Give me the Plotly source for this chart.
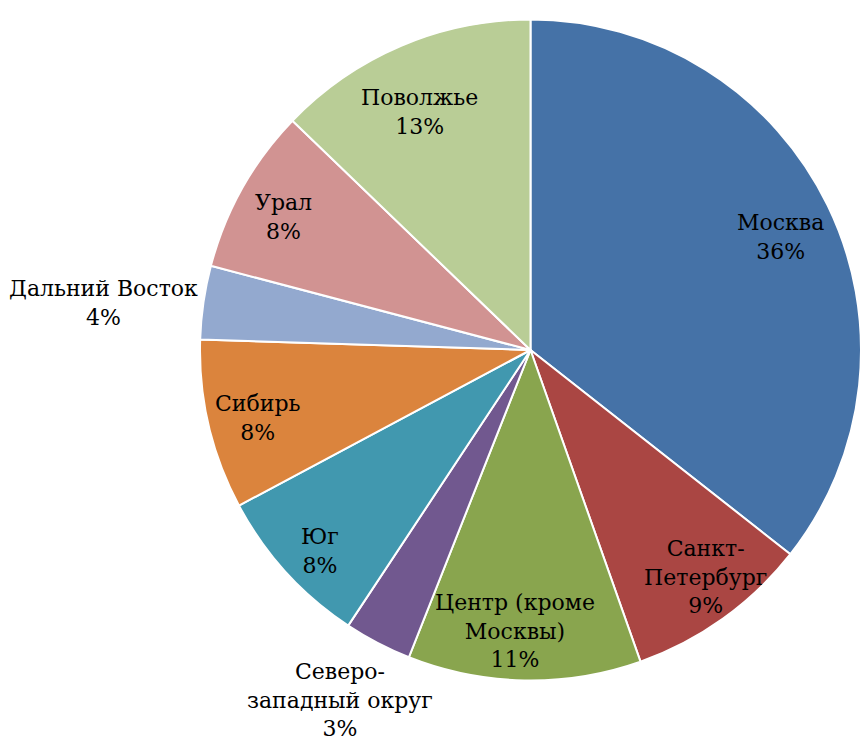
import math
import plotly.graph_objects as go

# ---- data ----
regions = ["Москва", "Санкт-Петербург", "Центр (кроме Москвы)", "Северо-западный округ",
           "Юг", "Сибирь", "Дальний Восток", "Урал", "Поволжье"]
shares = [35.6, 9.0, 11.4, 3.3, 7.9, 8.3, 3.6, 8.1, 12.8]
label_lines = ["Москва", "Санкт-<br>Петербург", "Центр (кроме<br>Москвы)", "Северо-<br>западный округ",
               "Юг", "Сибирь", "Дальний Восток", "Урал", "Поволжье"]
colors = ["#4572A7", "#AA4643", "#89A54E", "#71588F", "#4198AF",
          "#DB843D", "#93A9CF", "#D19392", "#B9CD96"]

# ---- layout geometry (label placement styling) ----
W, H = 861, 743
dom_x = [200 / W, 1.0]
dom_y = [62.5 / H, 723.5 / H]
label_radius = [0.83, 0.868, 0.85, 1.205, 0.88, 0.853, 1.30, 0.85, 0.794]
label_angle_shift = [1.7, -2.0, 2.0, 1.0, -1.4, -0.9, -2.0, -1.0, -2.0]
FONT = "DejaVu Serif"

fig = go.Figure(go.Pie(
    labels=regions,
    values=shares,
    sort=False,
    direction="clockwise",
    rotation=0,
    textinfo="none",
    hoverinfo="label+percent",
    marker=dict(colors=colors, line=dict(color="white", width=2)),
    domain=dict(x=dom_x, y=dom_y),
    showlegend=False,
))

cx = (dom_x[0] + dom_x[1]) / 2 * W
cy = (dom_y[0] + dom_y[1]) / 2 * H
R = min((dom_x[1] - dom_x[0]) * W, (dom_y[1] - dom_y[0]) * H) / 2
total = sum(shares)
cum = 0.0
annotations = []
for name, v, frac, shift in zip(label_lines, shares, label_radius, label_angle_shift):
    mid = (cum + v / 2) / total * 2 * math.pi + math.radians(shift)
    cum += v
    px = cx + frac * R * math.sin(mid)
    py = cy + frac * R * math.cos(mid)
    pct = round(v / total * 100)
    annotations.append(dict(
        x=px / W, y=py / H, xref="paper", yref="paper",
        text=f"{name}<br>{pct}%", showarrow=False,
        xanchor="center", yanchor="middle", align="center",
        font=dict(family=FONT, size=22, color="black"),
    ))

fig.update_layout(
    width=W, height=H,
    margin=dict(l=0, r=0, t=0, b=0),
    paper_bgcolor="white",
    plot_bgcolor="white",
    font=dict(family=FONT),
    annotations=annotations,
)

fig.write_html("out.html")
